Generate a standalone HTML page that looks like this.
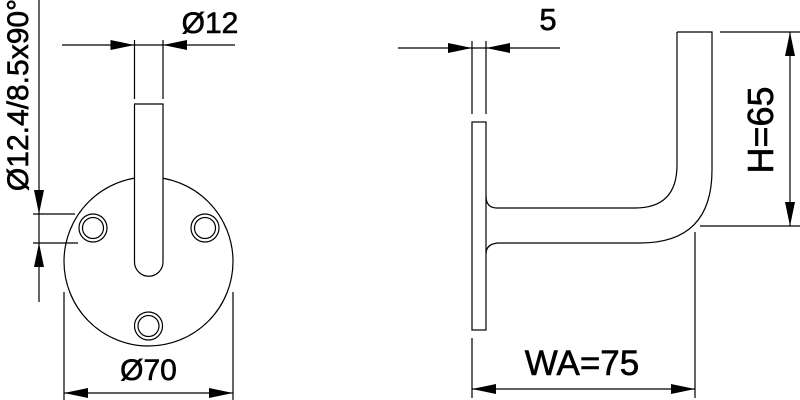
<!DOCTYPE html>
<html><head><style>body{margin:0;background:#fff}svg{display:block}</style></head><body>
<svg width="800" height="400" viewBox="0 0 800 400" xmlns="http://www.w3.org/2000/svg" font-family="Liberation Sans, sans-serif" fill="none" stroke="#000" stroke-width="1.2">
<!-- left view -->
<circle cx="148.5" cy="261.5" r="84.5" fill="#fff"/>
<path d="M134.5 104 V262 A14.25 14.25 0 0 0 163 262 V104 Z" fill="#fff"/>
<circle cx="93" cy="228" r="14"/><circle cx="93" cy="228" r="10.5"/>
<circle cx="205" cy="228" r="14"/><circle cx="205" cy="228" r="10.5"/>
<circle cx="148.5" cy="326" r="14"/><circle cx="148.5" cy="326" r="10.5"/>
<path d="M62 45H235M134.5 40V99M163 40V99"/>
<path d="M134.5 45l-24-5v10z M163 45l24-5v10z" fill="#000" stroke="none"/>
<g fill="#000" stroke="#000" stroke-width="0.6">
<text x="210" y="33" font-size="30" text-anchor="middle">Ø12</text>
<text transform="translate(28,95) rotate(-90)" font-size="30" text-anchor="middle">Ø12.4/8.5x90°</text>
<text x="148.5" y="380" font-size="30" text-anchor="middle">Ø70</text>
<text x="548" y="30" font-size="31" text-anchor="middle">5</text>
<text transform="translate(773,130) rotate(-90)" font-size="36" text-anchor="middle">H=65</text>
<text x="582" y="375" font-size="35" text-anchor="middle">WA=75</text>
</g>
<path d="M39 0V302M33 214H75M33 243H78"/>
<path d="M39 214l-5-24h10z M39 243l-5 24h10z" fill="#000" stroke="none"/>
<path d="M64 292V400M233 292V400M64 393H233"/>
<path d="M64 393l24-5v10z M233 393l-24-5v10z" fill="#000" stroke="none"/>
<!-- right view -->
<rect x="472" y="122" width="14" height="208"/>
<path d="M677 32H712V170Q712 243 640 243H500Q486 243 486 254 M677 32V165Q677 208 635 208H497Q486 208 486 196"/>
<path d="M398 48H560M472 41V114M486 41V114"/>
<path d="M472 48l-24-5v10z M486 48l24-5v10z" fill="#000" stroke="none"/>
<path d="M720 32H800M700 226H800M790 32V226"/>
<path d="M790 32l-5 24h10z M790 226l-5-24h10z" fill="#000" stroke="none"/>
<path d="M472 338V398M695 232V398M472 389H695"/>
<path d="M472 389l24-5v10z M695 389l-24-5v10z" fill="#000" stroke="none"/>
</svg>
</body></html>
